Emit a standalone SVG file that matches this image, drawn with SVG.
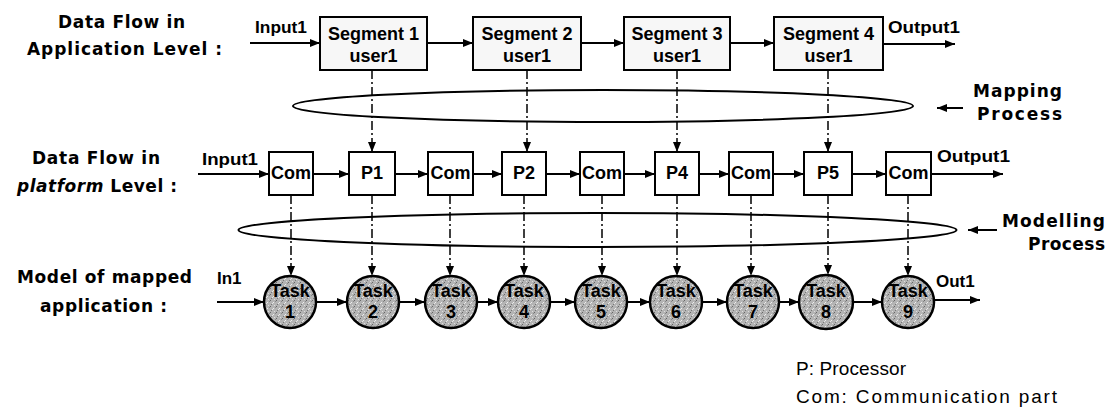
<svg xmlns="http://www.w3.org/2000/svg" width="1111" height="416" viewBox="0 0 1111 416">
<style>
.lbl{font-family:"DejaVu Sans","Liberation Sans",Verdana,sans-serif;font-weight:bold;font-size:17px;fill:#000}
.nt{font-family:"Liberation Sans",Arial,sans-serif;font-weight:bold;font-size:18px;fill:#000;text-anchor:middle}
.sm{font-family:"Liberation Sans",Arial,sans-serif;font-weight:bold;font-size:17px;fill:#000}
.leg{font-family:"Liberation Sans",Arial,sans-serif;font-size:19px;fill:#000}
.box{fill:#f7f7f7;stroke:#000;stroke-width:2}
.pbox{fill:#fff;stroke:#000;stroke-width:2}
.task{fill:url(#stip);stroke:#000;stroke-width:2.5}
.arr{stroke:#000;stroke-width:2;fill:none;marker-end:url(#ah)}
.dd{stroke:#000;stroke-width:1.5;fill:none;stroke-dasharray:9 3 2 3;marker-end:url(#ah)}
.ell{fill:none;stroke:#000;stroke-width:2}
</style>
<defs>
<marker id="ah" markerUnits="userSpaceOnUse" markerWidth="10" markerHeight="10" viewBox="0 0 10 10" refX="10" refY="5" orient="auto">
<path d="M0,1 L10,5 L0,9 z" fill="#000"/>
</marker>
<pattern id="stip" width="6" height="6" patternUnits="userSpaceOnUse">
<rect width="6" height="6" fill="#b4b4b4"/>
<rect x="0" y="0" width="1" height="1" fill="#666"/>
<rect x="3" y="2" width="1" height="1" fill="#eee"/>
<rect x="1" y="4" width="1" height="1" fill="#777"/>
<rect x="4" y="5" width="1" height="1" fill="#ddd"/>
<rect x="5" y="1" width="1" height="1" fill="#888"/>
<rect x="2" y="3" width="1" height="1" fill="#e6e6e6"/>
</pattern>
</defs>

<g id="labels">
<text class="lbl" x="121.5" y="28" text-anchor="middle" textLength="127" lengthAdjust="spacing">Data Flow in</text>
<text class="lbl" x="124.5" y="55" text-anchor="middle" textLength="195" lengthAdjust="spacing">Application Level :</text>
<text class="lbl" x="96" y="164" text-anchor="middle" textLength="128" lengthAdjust="spacing">Data Flow in</text>
<text class="lbl" x="97" y="192" text-anchor="middle" textLength="160" lengthAdjust="spacing"><tspan font-style="italic">platform</tspan> Level :</text>
<text class="lbl" x="104.5" y="283" text-anchor="middle" textLength="175" lengthAdjust="spacing">Model of mapped</text>
<text class="lbl" x="103.5" y="312" text-anchor="middle" textLength="127" lengthAdjust="spacing">application :</text>
<text class="lbl" x="1017.5" y="97" text-anchor="middle" textLength="89" lengthAdjust="spacing">Mapping</text>
<text class="lbl" x="1019.5" y="120" text-anchor="middle" textLength="85" lengthAdjust="spacing">Process</text>
<text class="lbl" x="1053.5" y="227" text-anchor="middle" textLength="103" lengthAdjust="spacing">Modelling</text>
<text class="lbl" x="1066.5" y="250" text-anchor="middle" textLength="77" lengthAdjust="spacing">Process</text>
<text class="sm" x="255" y="33" textLength="52" lengthAdjust="spacingAndGlyphs">Input1</text>
<text class="sm" x="888" y="33" textLength="72" lengthAdjust="spacingAndGlyphs">Output1</text>
<text class="sm" x="202" y="165" textLength="56" lengthAdjust="spacingAndGlyphs">Input1</text>
<text class="sm" x="937" y="162" textLength="73" lengthAdjust="spacingAndGlyphs">Output1</text>
<text class="sm" x="217" y="284">In1</text>
<text class="sm" x="936" y="287">Out1</text>
<text class="leg" x="796" y="375" textLength="110" lengthAdjust="spacing">P: Processor</text>
<text class="leg" x="796" y="403" font-size="20" textLength="261" lengthAdjust="spacing">Com: Communication part</text>
</g>

<g id="ellipses">
<ellipse id="mapping-ellipse" class="ell" cx="603" cy="106" rx="310" ry="16"/>
<ellipse id="modelling-ellipse" class="ell" cx="597.5" cy="230" rx="359" ry="17"/>
</g>

<g id="seg1"><rect class="box" x="320" y="17" width="107" height="53"/><text class="nt" x="373.5" y="40">Segment 1</text><text class="nt" x="373.5" y="62">user1</text></g>
<g id="seg2"><rect class="box" x="473" y="17" width="108" height="53"/><text class="nt" x="527" y="40">Segment 2</text><text class="nt" x="527" y="62">user1</text></g>
<g id="seg3"><rect class="box" x="624" y="17" width="106" height="53"/><text class="nt" x="677" y="40">Segment 3</text><text class="nt" x="677" y="62">user1</text></g>
<g id="seg4"><rect class="box" x="774" y="17" width="109" height="53"/><text class="nt" x="828.5" y="40">Segment 4</text><text class="nt" x="828.5" y="62">user1</text></g>

<g id="com1"><rect class="pbox" x="269" y="152" width="44" height="43"/><text class="nt" x="291" y="179">Com</text></g>
<g id="p1"><rect class="pbox" x="349" y="152" width="46" height="43"/><text class="nt" x="372" y="179">P1</text></g>
<g id="com2"><rect class="pbox" x="428" y="152" width="45" height="43"/><text class="nt" x="450.5" y="179">Com</text></g>
<g id="p2"><rect class="pbox" x="502" y="152" width="44" height="43"/><text class="nt" x="524" y="179">P2</text></g>
<g id="com3"><rect class="pbox" x="580" y="152" width="44" height="43"/><text class="nt" x="602" y="179">Com</text></g>
<g id="p4"><rect class="pbox" x="655" y="152" width="44" height="43"/><text class="nt" x="677" y="179">P4</text></g>
<g id="com4"><rect class="pbox" x="729" y="152" width="44" height="43"/><text class="nt" x="751" y="179">Com</text></g>
<g id="p5"><rect class="pbox" x="804" y="152" width="48" height="43"/><text class="nt" x="828" y="179">P5</text></g>
<g id="com5"><rect class="pbox" x="886" y="152" width="45" height="43"/><text class="nt" x="908.5" y="179">Com</text></g>

<g id="task1"><circle class="task" cx="290" cy="302" r="26"/><text class="nt" x="290" y="297">Task</text><text class="nt" x="290" y="318">1</text></g>
<g id="task2"><circle class="task" cx="373" cy="302" r="26"/><text class="nt" x="373" y="297">Task</text><text class="nt" x="373" y="318">2</text></g>
<g id="task3"><circle class="task" cx="451" cy="302" r="26"/><text class="nt" x="451" y="297">Task</text><text class="nt" x="451" y="318">3</text></g>
<g id="task4"><circle class="task" cx="524" cy="302" r="26"/><text class="nt" x="524" y="297">Task</text><text class="nt" x="524" y="318">4</text></g>
<g id="task5"><circle class="task" cx="601" cy="302" r="26"/><text class="nt" x="601" y="297">Task</text><text class="nt" x="601" y="318">5</text></g>
<g id="task6"><circle class="task" cx="676" cy="302" r="26"/><text class="nt" x="676" y="297">Task</text><text class="nt" x="676" y="318">6</text></g>
<g id="task7"><circle class="task" cx="753" cy="302" r="26"/><text class="nt" x="753" y="297">Task</text><text class="nt" x="753" y="318">7</text></g>
<g id="task8"><circle class="task" cx="826" cy="302" r="27"/><text class="nt" x="826" y="297">Task</text><text class="nt" x="826" y="318">8</text></g>
<g id="task9"><circle class="task" cx="908" cy="302" r="26"/><text class="nt" x="908" y="297">Task</text><text class="nt" x="908" y="318">9</text></g>

<g id="connectors">
<path class="arr" d="M250,43 H320"/>
<path class="arr" d="M427,43 H473"/>
<path class="arr" d="M581,43 H624"/>
<path class="arr" d="M730,43 H774"/>
<path class="arr" d="M883,44 H955"/>
<path class="arr" d="M963,108 H937"/>
<path class="arr" d="M997,230 H968"/>

<path class="dd" d="M372,70 V152"/>
<path class="dd" d="M527,70 V152"/>
<path class="dd" d="M677,70 V152"/>
<path class="dd" d="M828,70 V152"/>

<path class="arr" d="M198,174 H269"/>
<path class="arr" d="M313,174 H349"/>
<path class="arr" d="M395,174 H428"/>
<path class="arr" d="M473,174 H502"/>
<path class="arr" d="M546,174 H580"/>
<path class="arr" d="M624,174 H655"/>
<path class="arr" d="M699,174 H729"/>
<path class="arr" d="M773,174 H804"/>
<path class="arr" d="M852,174 H886"/>
<path class="arr" d="M931,174 H1003"/>

<path class="dd" d="M291,195 V276"/>
<path class="dd" d="M372,195 V276"/>
<path class="dd" d="M450,195 V276"/>
<path class="dd" d="M524,195 V276"/>
<path class="dd" d="M602,195 V276"/>
<path class="dd" d="M677,195 V276"/>
<path class="dd" d="M751,195 V276"/>
<path class="dd" d="M828,195 V275"/>
<path class="dd" d="M908,195 V276"/>

<path class="arr" d="M217,302 H264"/>
<path class="arr" d="M316,302 H347"/>
<path class="arr" d="M399,302 H425"/>
<path class="arr" d="M477,302 H498"/>
<path class="arr" d="M550,302 H575"/>
<path class="arr" d="M627,302 H650"/>
<path class="arr" d="M702,302 H727"/>
<path class="arr" d="M779,302 H799"/>
<path class="arr" d="M853,302 H882"/>
<path class="arr" d="M934,300 H980"/>
</g>
</svg>
